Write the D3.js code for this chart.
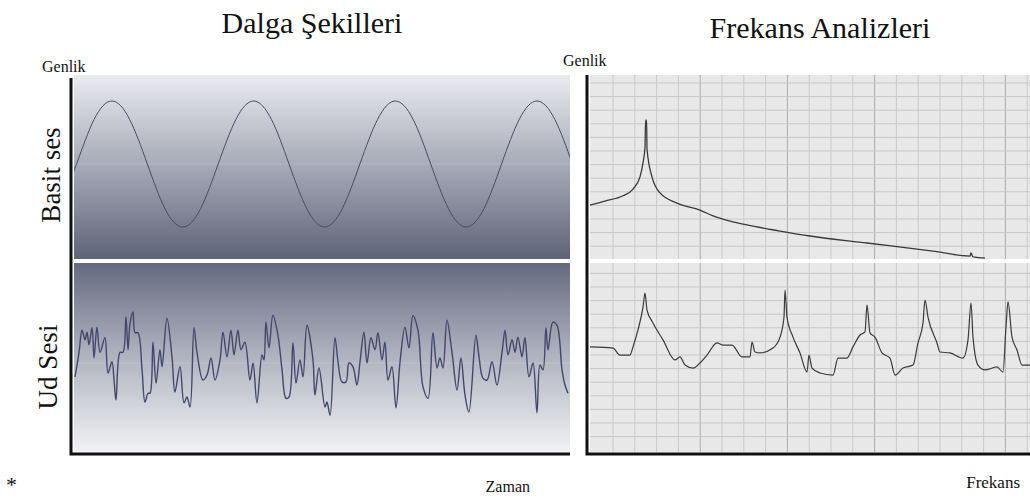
<!DOCTYPE html>
<html>
<head>
<meta charset="utf-8">
<script src="https://cdn.jsdelivr.net/npm/d3@7"></script>
<style>
  body { margin: 0; background: #fff; }
  text { font-family: "Liberation Serif", "Times New Roman", serif; fill: #111; }
</style>
</head>
<body>
<svg id="chart" width="1030" height="500"></svg>
<script>
// --- data ---
// time in ms, amplitude -1..1 (basit ses = pure tone)
const sineT = [-1.09, 0.18, 1.44, 2.71, 3.97, 5.24, 6.50, 7.77, 9.04, 10.30, 11.57, 12.83, 14.10, 15.36,
  16.63, 17.89, 19.16, 20.42, 21.69, 22.95, 24.22, 25.48, 26.75, 28.01, 29.28, 30.54, 31.81, 33.07, 34.34, 35.60];
const sineA = [-0.71, 0, 0.71, 1, 0.71, 0, -0.71, -1, -0.71, 0, 0.71, 1, 0.71, 0,
  -0.71, -1, -0.71, 0, 0.71, 1, 0.71, 0, -0.71, -1, -0.71, 0, 0.71, 1, 0.71, 0];

// ud sesi waveform
const udT = [0.07, 0.36, 0.57, 0.79, 0.93, 1.07, 1.29, 1.43, 1.64, 1.86, 2.21, 2.43, 2.71, 2.86, 3.00,
  3.29, 3.50, 3.71, 3.86, 4.00, 4.21, 4.36, 4.57, 4.86, 5.07, 5.29, 5.43, 5.64, 5.86, 6.14, 6.29, 6.64,
  7.00, 7.21, 7.57, 7.86, 8.07, 8.29, 8.57, 8.79, 9.21, 9.50, 9.79, 10.07, 10.43, 10.64, 10.93, 11.21,
  11.43, 11.71, 11.93, 12.21, 12.57, 12.79, 13.07, 13.43, 13.57, 13.71, 13.93, 14.21, 14.57, 14.86,
  15.14, 15.36, 15.64, 15.86, 16.14, 16.36, 16.64, 17.07, 17.21, 17.50, 17.93, 18.07, 18.29, 18.64,
  18.86, 19.14, 19.43, 19.64, 19.93, 20.21, 20.43, 20.71, 20.93, 21.21, 21.50, 21.71, 22.00, 22.21,
  22.43, 22.71, 23.00, 23.29, 23.64, 23.93, 24.21, 24.57, 24.93, 25.29, 25.64, 25.93, 26.14, 26.36,
  26.64, 27.00, 27.36, 27.64, 27.93, 28.21, 28.71, 28.93, 29.21, 29.50, 29.86, 30.21, 30.57, 30.79,
  31.00, 31.29, 31.50, 31.71, 32.00, 32.21, 32.50, 32.79, 33.07, 33.29, 33.50, 33.71, 33.86, 34.21,
  34.50, 34.86, 35.07, 35.29];
const udA = [-0.22, 0.17, 0.52, 0.37, 0.49, 0.29, 0.56, 0.08, 0.57, 0.17, 0.40, -0.16, 0.02, -0.27, -0.59,
  0.17, 0.17, 0.73, 0.21, 0.63, 0.81, 0.48, 0.48, -0.11, -0.62, -0.48, -0.48, 0.33, -0.32, 0.21, -0.06, 0.71,
  0.10, -0.46, -0.06, -0.63, -0.54, -0.70, 0.56, 0.16, -0.27, -0.19, 0.08, -0.27, 0.05, 0.49, 0.10, 0.52,
  0.13, 0.52, 0.21, 0.33, -0.27, 0.00, -0.63, 0.13, 0.05, 0.65, 0.24, 0.76, 0.44, -0.11,
  -0.56, -0.54, 0.32, -0.32, 0.05, -0.22, 0.60, 0.05, -0.51, -0.08, -0.70, -0.62, -0.83, 0.40,
  0.02, -0.30, -0.30, 0.00, -0.06, -0.35, 0.02, 0.49, 0.00, 0.40, 0.21, 0.48, 0.05, 0.33,
  -0.27, -0.06, -0.71, 0.02, 0.57, 0.24, 0.75, 0.52, -0.38, -0.56, 0.48, -0.08, 0.08, -0.08,
  0.68, 0.17, -0.43, 0.08, -0.51, -0.78, 0.44, 0.10, -0.24, -0.27, 0.02, -0.35, 0.16, 0.52,
  0.13, 0.37, 0.17, 0.41, 0.10, 0.40, -0.22, 0.00, -0.79, -0.03, -0.11, 0.56, 0.21, 0.65,
  0.60, -0.11, -0.35, -0.48];

// frequency (Hz) / genlik (0..100) - basit ses spectrum
const specTopF = [0, 150, 330, 430, 500, 530, 550, 556, 566, 570, 620, 700, 870, 1100, 1230, 1570, 1900,
  2200, 2770, 3430, 3800, 3810, 3830, 3950];
const specTopA = [29.3, 31.5, 34.4, 38.0, 44.6, 52.2, 60.9, 75.5, 75.5, 59.8, 44.6, 35.9, 30.4, 26.6, 23.4, 18.5, 15.2,
  12.5, 8.7, 4.3, 1.6, 3.3, 1.1, 0.5];

// ud sesi spectrum
const specBotF = [0, 230, 300, 400, 430, 480, 530, 550, 570, 630, 730, 850, 900, 950, 1030, 1100, 1170,
  1270, 1330, 1420, 1520, 1600, 1620, 1650, 1700, 1830, 1900, 1940, 1950, 1970, 2030, 2100, 2170, 2190,
  2220, 2300, 2430, 2480, 2570, 2630, 2700, 2750, 2770, 2800, 2850, 2920, 3000, 3050, 3130, 3230, 3280,
  3330, 3350, 3380, 3470, 3500, 3600, 3730, 3780, 3810, 3830, 3880, 3950, 4070, 4130, 4160, 4180, 4220,
  4270, 4320, 4400];
const specBotA = [55.6, 55.0, 51.3, 51.3, 55.6, 64.6, 76.7, 84.1, 75.1, 68.3, 59.3, 48.7, 50.3, 46.0, 44.4, 47.1, 51.3,
  57.7, 56.6, 56.6, 50.3, 50.3, 58.2, 52.9, 52.4, 55.0, 60.8, 71.4, 85.7, 71.4, 60.8, 52.4, 42.3, 51.3,
  44.4, 41.8, 40.7, 49.7, 49.7, 55.6, 61.9, 63.5, 77.8, 63.0, 60.8, 52.4, 49.7, 40.7, 44.4, 46.0, 57.7,
  68.3, 80.4, 71.4, 57.7, 52.9, 52.4, 49.7, 59.3, 78.8, 60.8, 46.0, 43.4, 45.0, 42.3, 66.1, 79.4, 60.8,
  54.0, 46.0, 46.0];

const titles = ["Dalga Şekilleri", "Frekans Analizleri"];
const rowLabels = ["Basit ses", "Ud Sesi"];
const yLabel = "Genlik";
const xLabels = ["Zaman", "Frekans"];
const darkCols = [4, 8, 12, 18];

// --- layout ---
const svg = d3.select("#chart");
const L = {x0: 74, x1: 570, axisX: 71};
const R = {x0: 590, x1: 1030, axisX: 587};
const rowTop = {y0: 75, y1: 259};
const rowBot = {y0: 263, y1: 452};
const axisY = 454;

const defs = svg.append("defs");
function grad(id, stops) {
  const g = defs.append("linearGradient").attr("id", id)
    .attr("x1", 0).attr("y1", 0).attr("x2", 0).attr("y2", 1);
  stops.forEach(function(s) {
    g.append("stop").attr("offset", s[0]).attr("stop-color", s[1]);
  });
}
grad("gTop", [["0%", "#eaebef"], ["50%", "#a5a8b6"], ["100%", "#5e6377"]]);
grad("gBot", [["0%", "#656a7f"], ["45%", "#aaadbb"], ["100%", "#f2f2f4"]]);

["cTop", "cBot"].forEach(function(id, i) {
  const r = i === 0 ? rowTop : rowBot;
  defs.append("clipPath").attr("id", id + "L").append("rect")
    .attr("x", L.x0).attr("y", r.y0).attr("width", L.x1 - L.x0).attr("height", r.y1 - r.y0);
});

// scales
const tScale = d3.scaleLinear().domain([0, 35.43]).range([L.x0, L.x1]);
const aTop = d3.scaleLinear().domain([-1, 1]).range([227, 101]);
const aBot = d3.scaleLinear().domain([-1, 1]).range([426, 300]);
const fScale = d3.scaleLinear().domain([0, 4400]).range([R.x0, R.x1]);
const sTop = d3.scaleLinear().domain([0, 100]).range([rowTop.y1, rowTop.y0]);
const sBot = d3.scaleLinear().domain([0, 100]).range([rowBot.y1, rowBot.y0]);

// left panels
svg.append("rect").attr("x", L.x0).attr("y", rowTop.y0).attr("width", L.x1 - L.x0)
  .attr("height", rowTop.y1 - rowTop.y0).attr("fill", "url(#gTop)");
svg.append("rect").attr("x", L.x0).attr("y", rowBot.y0).attr("width", L.x1 - L.x0)
  .attr("height", rowBot.y1 - rowBot.y0).attr("fill", "url(#gBot)");
// faint zero lines
[[aTop, rowTop], [aBot, rowBot]].forEach(function(p) {
  svg.append("line").attr("x1", L.x0).attr("x2", L.x1)
    .attr("y1", p[0](0)).attr("y2", p[0](0))
    .attr("stroke", "#ffffff").attr("stroke-opacity", 0.18).attr("stroke-width", 1);
});

// right panel with grid
svg.append("rect").attr("x", R.x0).attr("y", rowTop.y0).attr("width", R.x1 - R.x0)
  .attr("height", rowBot.y1 - rowTop.y0).attr("fill", "#e8e8e8");
const gridX = d3.scaleLinear().domain([0, 1]).range([613, 634.8]);
const gridY = d3.scaleLinear().domain([0, 1]).range([83, 96.6]);
const grid = svg.append("g");
d3.range(0, 20).forEach(function(i) {
  grid.append("line").attr("x1", gridX(i)).attr("x2", gridX(i))
    .attr("y1", rowTop.y0).attr("y2", rowBot.y1)
    .attr("stroke", darkCols.indexOf(i) >= 0 ? "#adadad" : "#cacaca").attr("stroke-width", 1);
});
d3.range(0, 27).forEach(function(i) {
  const y = gridY(i);
  if (y > rowBot.y1 - 2) return;
  grid.append("line").attr("x1", R.x0).attr("x2", R.x1).attr("y1", y).attr("y2", y)
    .attr("stroke", "#c8c8c8").attr("stroke-width", 1);
});
// white separator between rows
svg.append("rect").attr("x", L.x0).attr("y", rowTop.y1).attr("width", R.x1 - L.x0)
  .attr("height", rowBot.y0 - rowTop.y1).attr("fill", "#fff");
svg.append("rect").attr("x", L.x1).attr("y", rowTop.y0).attr("width", R.axisX - L.x1 - 1)
  .attr("height", rowBot.y1 - rowTop.y0 + 4).attr("fill", "#fff");

// waveform lines
const sineLine = d3.line()
  .x(function(d, i) { return tScale(sineT[i]); })
  .y(function(d) { return aTop(d); })
  .curve(d3.curveNatural);
svg.append("path").datum(sineA).attr("d", sineLine)
  .attr("clip-path", "url(#cTopL)")
  .attr("fill", "none").attr("stroke", "#4a4d60").attr("stroke-width", 1);

const udLine = d3.line()
  .x(function(d, i) { return tScale(udT[i]); })
  .y(function(d) { return aBot(d); })
  .curve(d3.curveCatmullRom.alpha(0.5));
svg.append("path").datum(udA).attr("d", udLine)
  .attr("clip-path", "url(#cBotL)")
  .attr("fill", "none").attr("stroke", "#43476a").attr("stroke-width", 1.4);

// spectra
const topLine = d3.line()
  .x(function(d, i) { return fScale(specTopF[i]); })
  .y(function(d) { return sTop(d); })
  .curve(d3.curveMonotoneX);
svg.append("path").datum(specTopA).attr("d", topLine)
  .attr("fill", "none").attr("stroke", "#3a3a3a").attr("stroke-width", 1.3);
const botLine = d3.line()
  .x(function(d, i) { return fScale(specBotF[i]); })
  .y(function(d) { return sBot(d); })
  .curve(d3.curveMonotoneX);
svg.append("path").datum(specBotA).attr("d", botLine)
  .attr("fill", "none").attr("stroke", "#3a3a3a").attr("stroke-width", 1.2);

// axes (plain black lines)
const ax = svg.append("g").attr("stroke", "#111").attr("stroke-width", 3).attr("fill", "none");
ax.append("path").attr("d", "M" + L.axisX + "," + 78 + "V" + axisY + "H" + L.x1);
ax.append("path").attr("d", "M" + R.axisX + "," + 75 + "V" + axisY + "H" + R.x1);

// texts
svg.append("text").attr("x", 312).attr("y", 33).attr("text-anchor", "middle")
  .style("font-size", "30px").text(titles[0]);
svg.append("text").attr("x", 820).attr("y", 38).attr("text-anchor", "middle")
  .style("font-size", "30px").text(titles[1]);
svg.append("text").attr("x", 42).attr("y", 72).style("font-size", "16px").text(yLabel);
svg.append("text").attr("x", 563).attr("y", 66).style("font-size", "16px").text(yLabel);
svg.append("text").attr("transform", "translate(60,175) rotate(-90)").attr("text-anchor", "middle")
  .style("font-size", "27px").text(rowLabels[0]);
svg.append("text").attr("transform", "translate(57,367) rotate(-90)").attr("text-anchor", "middle")
  .style("font-size", "27px").text(rowLabels[1]);
svg.append("text").attr("x", 530).attr("y", 492).attr("text-anchor", "end")
  .style("font-size", "16px").text(xLabels[0]);
svg.append("text").attr("x", 1020).attr("y", 488).attr("text-anchor", "end")
  .style("font-size", "17px").text(xLabels[1]);
svg.append("text").attr("x", 6).attr("y", 492).style("font-size", "22px").text("*");
</script>
</body>
</html>
